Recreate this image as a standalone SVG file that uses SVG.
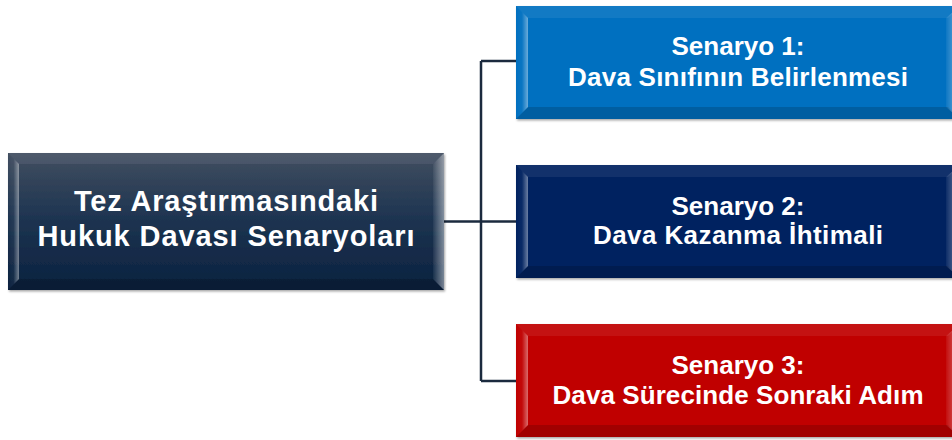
<svg xmlns="http://www.w3.org/2000/svg" width="952" height="440" viewBox="0 0 952 440">
  <defs>
    <linearGradient id="gMain" x1="0" y1="0" x2="0" y2="1">
      <stop offset="0" stop-color="#414e60"/>
      <stop offset="0.5" stop-color="#1c3350"/>
      <stop offset="1" stop-color="#0b223f"/>
    </linearGradient>
    <linearGradient id="gLeft" x1="0" y1="0" x2="1" y2="0">
      <stop offset="0" stop-color="#ffffff" stop-opacity="0"/>
      <stop offset="0.5" stop-color="#ffffff" stop-opacity="0.04"/>
      <stop offset="1" stop-color="#ffffff" stop-opacity="0.42"/>
    </linearGradient>
    <linearGradient id="gRight" x1="0" y1="0" x2="1" y2="0">
      <stop offset="0" stop-color="#ffffff" stop-opacity="0.05"/>
      <stop offset="1" stop-color="#ffffff" stop-opacity="0.45"/>
    </linearGradient>
    <filter id="shadow" x="-5%" y="-5%" width="110%" height="115%">
      <feDropShadow dx="1" dy="1.5" stdDeviation="1.2" flood-color="#000" flood-opacity="0.35"/>
    </filter>
  </defs>
  <style>
    .lbl { font-family: "Liberation Sans", Arial, sans-serif; font-weight: bold; fill: #ffffff; text-anchor: middle; }
    .big { font-size: 29px; }
    .sm { font-size: 26px; }
    .top { fill: #ffffff; fill-opacity: 0.07; }
    .bot { fill: #000000; fill-opacity: 0.16; }
    .lf { fill: url(#gLeft); }
    .rf { fill: url(#gRight); }
    .conn { fill: none; stroke: #1b2a3e; stroke-width: 2.5; }
  </style>
  <rect width="952" height="440" fill="#ffffff"/>

  <g id="connectors">
    <path class="conn" d="M444 221.5 H481"/>
    <path class="conn" d="M481 61 V381"/>
    <path class="conn" d="M481 61 H516"/>
    <path class="conn" d="M481 221.5 H516"/>
    <path class="conn" d="M481 381 H516"/>
  </g>

  <g id="main">
    <rect x="8" y="153" width="436" height="137" fill="url(#gMain)" filter="url(#shadow)"/>
    <polygon class="top" points="8,153 444,153 433,164 19,164"/>
    <polygon class="bot" points="8,290 444,290 433,279 19,279"/>
    <polygon class="lf" points="8,153 19,164 19,279 8,290"/>
    <polygon class="rf" points="444,153 433,164 433,279 444,290"/>
    <text class="lbl big" x="226" y="211" textLength="304" lengthAdjust="spacing">Tez Araştırmasındaki</text>
    <text class="lbl big" x="226" y="246" textLength="377" lengthAdjust="spacing">Hukuk Davası Senaryoları</text>
  </g>

  <g id="s1">
    <rect x="516" y="6" width="444" height="113" fill="#0070c0" filter="url(#shadow)"/>
    <polygon class="top" points="516,6 960,6 948,18 528,18"/>
    <polygon class="bot" points="516,119 960,119 948,107 528,107"/>
    <polygon class="lf" points="516,6 528,18 528,107 516,119"/>
    <polygon class="rf" points="960,6 946,18 946,107 960,119"/>
    <text class="lbl sm" x="738" y="55">Senaryo 1:</text>
    <text class="lbl sm" x="738" y="86" textLength="340" lengthAdjust="spacing">Dava Sınıfının Belirlenmesi</text>
  </g>

  <g id="s2">
    <rect x="516" y="165" width="444" height="113" fill="#002060" filter="url(#shadow)"/>
    <polygon class="top" points="516,165 960,165 948,177 528,177"/>
    <polygon class="bot" points="516,278 960,278 948,266 528,266"/>
    <polygon class="lf" points="516,165 528,177 528,266 516,278"/>
    <polygon class="rf" points="960,165 946,177 946,266 960,278"/>
    <text class="lbl sm" x="738" y="215">Senaryo 2:</text>
    <text class="lbl sm" x="738" y="244" textLength="290" lengthAdjust="spacing">Dava Kazanma İhtimali</text>
  </g>

  <g id="s3">
    <rect x="516" y="324" width="444" height="113" fill="#c00000" filter="url(#shadow)"/>
    <polygon class="top" points="516,324 960,324 948,336 528,336"/>
    <polygon class="bot" points="516,437 960,437 948,425 528,425"/>
    <polygon class="lf" points="516,324 528,336 528,425 516,437"/>
    <polygon class="rf" points="960,324 946,336 946,425 960,437"/>
    <text class="lbl sm" x="738" y="374">Senaryo 3:</text>
    <text class="lbl sm" x="738" y="404" textLength="371" lengthAdjust="spacing">Dava Sürecinde Sonraki Adım</text>
  </g>
</svg>
